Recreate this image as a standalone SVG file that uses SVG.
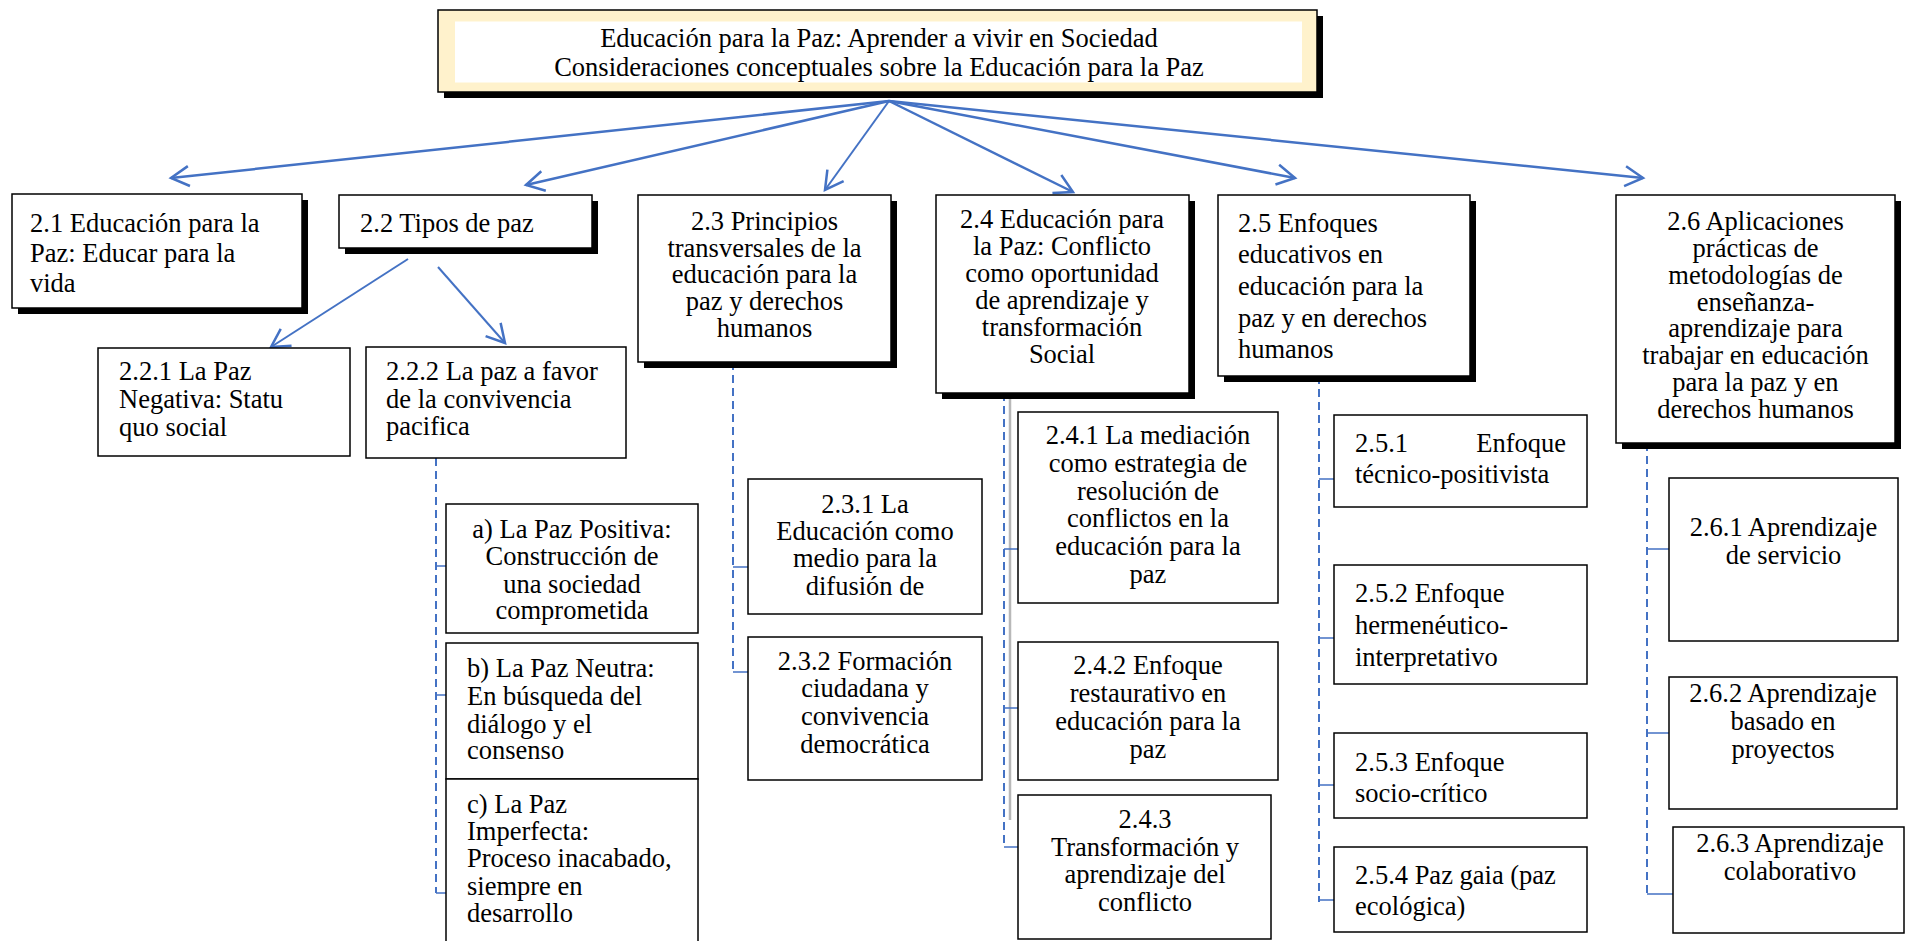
<svg xmlns="http://www.w3.org/2000/svg" width="1906" height="941" viewBox="0 0 1906 941">
<style>
.box{fill:#fff;stroke:#000;stroke-width:1.5}
.sh{fill:#000}
.t{font-family:"Liberation Serif","Times New Roman",serif;font-size:26.5px;fill:#000}
.c{text-anchor:middle}
.arr{stroke:#4472C4;fill:none;stroke-width:2.5}
.dash{stroke:#4472C4;stroke-width:2;stroke-dasharray:8 5;fill:none}
.tick{stroke:#4472C4;stroke-width:1.3;fill:none}
</style>
<defs>
<marker id="ah" markerUnits="userSpaceOnUse" viewBox="-22 -12 24 24" refX="0" refY="0" markerWidth="24" markerHeight="24" orient="auto" overflow="visible">
<path d="M-18,-10 L0,0 L-18,10" fill="none" stroke="#4472C4" stroke-width="2.5"/>
</marker>
</defs>
<rect width="1906" height="941" fill="#fff"/>

<g id="connectors">
<line class="arr" x1="889" y1="101" x2="171" y2="178" marker-end="url(#ah)"/>
<line class="arr" x1="889" y1="101" x2="526" y2="185" marker-end="url(#ah)"/>
<line class="arr" x1="889" y1="101" x2="825" y2="190" marker-end="url(#ah)" style="stroke-width:2"/>
<line class="arr" x1="889" y1="101" x2="1073" y2="192" marker-end="url(#ah)"/>
<line class="arr" x1="889" y1="101" x2="1295" y2="178" marker-end="url(#ah)"/>
<line class="arr" x1="889" y1="101" x2="1643" y2="178" marker-end="url(#ah)"/>
<line class="arr" x1="408" y1="259" x2="271" y2="347" marker-end="url(#ah)" style="stroke-width:2"/>
<line class="arr" x1="438" y1="267" x2="505" y2="343" marker-end="url(#ah)" style="stroke-width:2"/>
<line class="dash" x1="436" y1="458" x2="436" y2="893"/>
<path class="tick" d="M436,566H446M436,695H446M436,893H446"/>
<line class="dash" x1="733" y1="362" x2="733" y2="672"/>
<path class="tick" d="M733,567H748M733,672H748"/>
<line x1="1010" y1="393" x2="1010" y2="820" stroke="#b8b8b8" stroke-width="2.5"/>
<line class="dash" x1="1004" y1="393" x2="1004" y2="847"/>
<path class="tick" d="M1004,549H1018M1004,708H1018M1004,847H1018"/>
<line class="dash" x1="1319" y1="376" x2="1319" y2="902"/>
<path class="tick" d="M1319,479H1334M1319,638H1334M1319,785H1334M1319,900H1334"/>
<line class="dash" x1="1647" y1="443" x2="1647" y2="895"/>
<path class="tick" d="M1647,549H1669M1647,733H1669M1647,894H1673"/>
</g>

<g id="n0">
<rect class="sh" x="444" y="16" width="879" height="82"/>
<rect x="438" y="10" width="879" height="82" fill="#FFF2CC" stroke="#000" stroke-width="1.5"/>
<rect x="455" y="21.5" width="847" height="61" fill="#fff"/>
<text class="t c" x="879"><tspan x="879" y="46.5">Educación para la Paz: Aprender a vivir en Sociedad</tspan><tspan x="879" y="75.5">Consideraciones conceptuales sobre la Educación para la Paz</tspan></text>
</g>

<g id="n21">
<rect class="sh" x="18" y="200" width="290" height="114"/>
<rect class="box" x="12" y="194" width="290" height="114"/>
<text class="t" x="30"><tspan x="30" y="232">2.1 Educación para la</tspan><tspan x="30" y="262">Paz: Educar para la</tspan><tspan x="30" y="292">vida</tspan></text>
</g>

<g id="n22">
<rect class="sh" x="345" y="201" width="253" height="53"/>
<rect class="box" x="339" y="195" width="253" height="53"/>
<text class="t" x="360" y="232">2.2 Tipos de paz</text>
</g>

<g id="n221">
<rect class="box" x="98" y="348" width="252" height="108"/>
<text class="t" x="119"><tspan x="119" y="380">2.2.1 La Paz</tspan><tspan x="119" y="408">Negativa: Statu</tspan><tspan x="119" y="436">quo social</tspan></text>
</g>

<g id="n222">
<rect class="box" x="366" y="347" width="260" height="111"/>
<text class="t" x="386"><tspan x="386" y="380">2.2.2 La paz a favor</tspan><tspan x="386" y="408">de la convivencia</tspan><tspan x="386" y="435">pacifica</tspan></text>
</g>

<g id="na">
<rect class="box" x="446" y="504" width="252" height="129"/>
<text class="t c" x="572"><tspan x="572" y="538">a) La Paz Positiva:</tspan><tspan x="572" y="565">Construcción de</tspan><tspan x="572" y="593">una sociedad</tspan><tspan x="572" y="619">comprometida</tspan></text>
</g>

<g id="nb">
<rect class="box" x="446" y="643" width="252" height="136"/>
<text class="t" x="467"><tspan x="467" y="677">b) La Paz Neutra:</tspan><tspan x="467" y="705">En búsqueda del</tspan><tspan x="467" y="733">diálogo y el</tspan><tspan x="467" y="759">consenso</tspan></text>
</g>

<g id="nc">
<rect class="box" x="446" y="779" width="252" height="170"/>
<text class="t" x="467"><tspan x="467" y="813">c) La Paz</tspan><tspan x="467" y="840">Imperfecta:</tspan><tspan x="467" y="867">Proceso inacabado,</tspan><tspan x="467" y="895">siempre en</tspan><tspan x="467" y="922">desarrollo</tspan></text>
</g>

<g id="n23">
<rect class="sh" x="644" y="201" width="253" height="167"/>
<rect class="box" x="638" y="195" width="253" height="167"/>
<text class="t c" x="764.5"><tspan x="764.5" y="230">2.3 Principios</tspan><tspan x="764.5" y="256.7">transversales de la</tspan><tspan x="764.5" y="283.4">educación para la</tspan><tspan x="764.5" y="310.1">paz y derechos</tspan><tspan x="764.5" y="336.8">humanos</tspan></text>
</g>

<g id="n231">
<rect class="box" x="748" y="479" width="234" height="135"/>
<text class="t c" x="865"><tspan x="865" y="513">2.3.1 La</tspan><tspan x="865" y="540">Educación como</tspan><tspan x="865" y="567">medio para la</tspan><tspan x="865" y="595">difusión de</tspan></text>
</g>

<g id="n232">
<rect class="box" x="748" y="637" width="234" height="143"/>
<text class="t c" x="865"><tspan x="865" y="670">2.3.2 Formación</tspan><tspan x="865" y="697">ciudadana y</tspan><tspan x="865" y="725">convivencia</tspan><tspan x="865" y="753">democrática</tspan></text>
</g>

<g id="n24">
<rect class="sh" x="942" y="201" width="253" height="198"/>
<rect class="box" x="936" y="195" width="253" height="198"/>
<text class="t c" x="1062"><tspan x="1062" y="228">2.4 Educación para</tspan><tspan x="1062" y="255">la Paz: Conflicto</tspan><tspan x="1062" y="282">como oportunidad</tspan><tspan x="1062" y="309">de aprendizaje y</tspan><tspan x="1062" y="336">transformación</tspan><tspan x="1062" y="363">Social</tspan></text>
</g>

<g id="n241">
<rect class="box" x="1018" y="412" width="260" height="191"/>
<text class="t c" x="1148"><tspan x="1148" y="444">2.4.1 La mediación</tspan><tspan x="1148" y="472">como estrategia de</tspan><tspan x="1148" y="500">resolución de</tspan><tspan x="1148" y="527">conflictos en la</tspan><tspan x="1148" y="555">educación para la</tspan><tspan x="1148" y="583">paz</tspan></text>
</g>

<g id="n242">
<rect class="box" x="1018" y="642" width="260" height="138"/>
<text class="t c" x="1148"><tspan x="1148" y="674">2.4.2 Enfoque</tspan><tspan x="1148" y="702">restaurativo en</tspan><tspan x="1148" y="730">educación para la</tspan><tspan x="1148" y="758">paz</tspan></text>
</g>

<g id="n243">
<rect class="box" x="1018" y="795" width="253" height="144"/>
<text class="t c" x="1145"><tspan x="1145" y="828">2.4.3</tspan><tspan x="1145" y="856">Transformación y</tspan><tspan x="1145" y="883">aprendizaje del</tspan><tspan x="1145" y="911">conflicto</tspan></text>
</g>

<g id="n25">
<rect class="sh" x="1224" y="201" width="252" height="181"/>
<rect class="box" x="1218" y="195" width="252" height="181"/>
<text class="t" x="1238"><tspan x="1238" y="232">2.5 Enfoques</tspan><tspan x="1238" y="263">educativos en</tspan><tspan x="1238" y="295">educación para la</tspan><tspan x="1238" y="327">paz y en derechos</tspan><tspan x="1238" y="358">humanos</tspan></text>
</g>

<g id="n251">
<rect class="box" x="1334" y="415" width="253" height="92"/>
<text class="t" x="1355" y="452">2.5.1</text>
<text class="t" x="1566" y="452" text-anchor="end">Enfoque</text>
<text class="t" x="1355" y="483">técnico-positivista</text>
</g>

<g id="n252">
<rect class="box" x="1334" y="565" width="253" height="119"/>
<text class="t" x="1355"><tspan x="1355" y="602">2.5.2 Enfoque</tspan><tspan x="1355" y="634">hermenéutico-</tspan><tspan x="1355" y="666">interpretativo</tspan></text>
</g>

<g id="n253">
<rect class="box" x="1334" y="733" width="253" height="85"/>
<text class="t" x="1355"><tspan x="1355" y="771">2.5.3 Enfoque</tspan><tspan x="1355" y="802">socio-crítico</tspan></text>
</g>

<g id="n254">
<rect class="box" x="1334" y="847" width="253" height="85"/>
<text class="t" x="1355"><tspan x="1355" y="884">2.5.4 Paz gaia (paz</tspan><tspan x="1355" y="915">ecológica)</tspan></text>
</g>

<g id="n26">
<rect class="sh" x="1622" y="201" width="279" height="248"/>
<rect class="box" x="1616" y="195" width="279" height="248"/>
<text class="t c" x="1755.5"><tspan x="1755.5" y="230">2.6 Aplicaciones</tspan><tspan x="1755.5" y="256.9">prácticas de</tspan><tspan x="1755.5" y="283.7">metodologías de</tspan><tspan x="1755.5" y="310.6">enseñanza-</tspan><tspan x="1755.5" y="337.4">aprendizaje para</tspan><tspan x="1755.5" y="364.3">trabajar en educación</tspan><tspan x="1755.5" y="391.2">para la paz y en</tspan><tspan x="1755.5" y="418">derechos humanos</tspan></text>
</g>

<g id="n261">
<rect class="box" x="1669" y="478" width="229" height="163"/>
<text class="t c" x="1783.5"><tspan x="1783.5" y="536">2.6.1 Aprendizaje</tspan><tspan x="1783.5" y="564">de servicio</tspan></text>
</g>

<g id="n262">
<rect class="box" x="1669" y="677" width="228" height="132"/>
<text class="t c" x="1783"><tspan x="1783" y="702">2.6.2 Aprendizaje</tspan><tspan x="1783" y="730">basado en</tspan><tspan x="1783" y="758">proyectos</tspan></text>
</g>

<g id="n263">
<rect class="box" x="1673" y="827" width="231" height="106"/>
<text class="t c" x="1790"><tspan x="1790" y="852">2.6.3 Aprendizaje</tspan><tspan x="1790" y="880">colaborativo</tspan></text>
</g>
</svg>
